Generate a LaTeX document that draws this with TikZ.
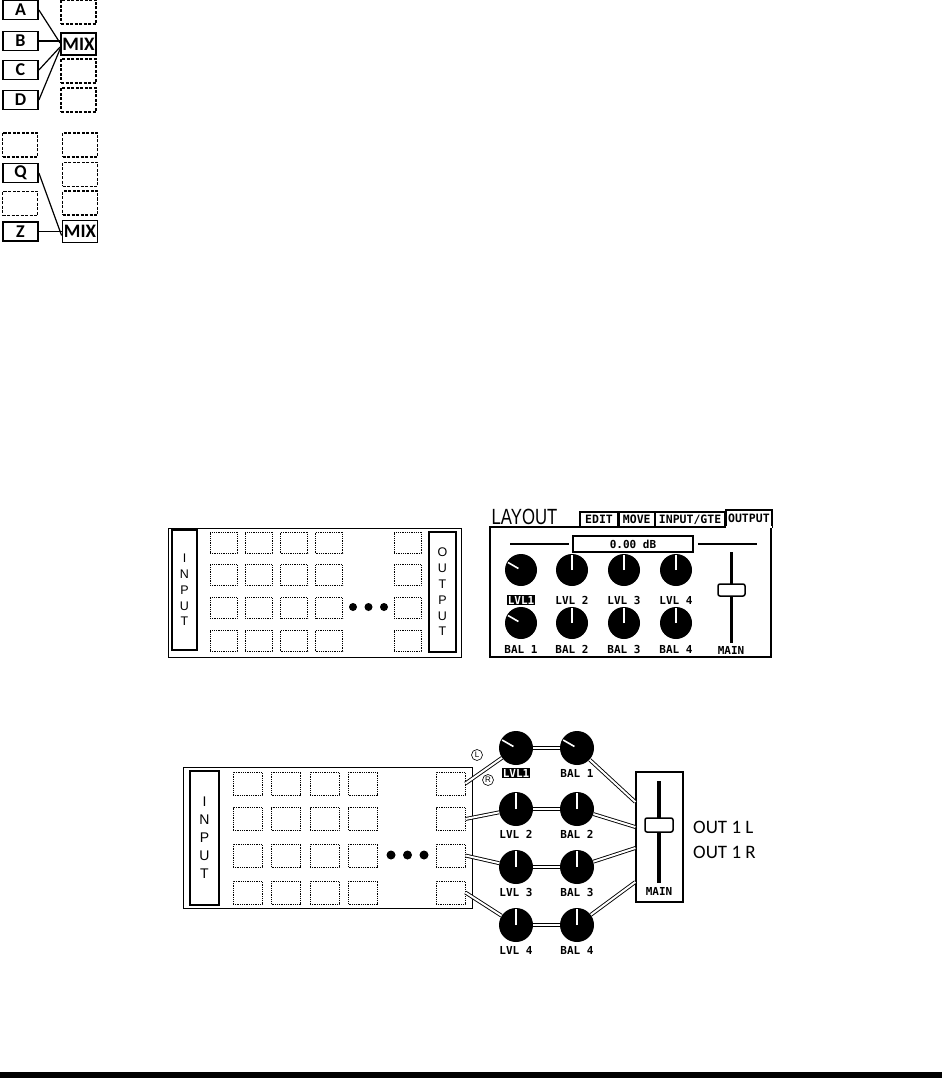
\documentclass[tikz,border=0pt]{standalone}
\usepackage{graphicx}
\usepackage{fontspec}
\setmainfont{Carlito}
\newfontfamily\arialfont{Liberation Sans}
\newfontfamily\lcdfont{DejaVu Sans Mono}
\usetikzlibrary{positioning}

\tikzset{
  srcbox/.style={draw, line width=1.8pt, minimum width=35pt, minimum height=19pt, inner sep=0pt, font=\bfseries\fontsize{18}{18}\selectfont},
  mixbox/.style={srcbox, minimum height=22pt, font=\bfseries\fontsize{19}{19}\selectfont},
  freebox/.style={draw, line width=1.6pt, dash pattern=on 3pt off 1.5pt, minimum width=35pt, minimum height=24pt, inner sep=0pt},
  cell/.style={draw, line width=0.8pt, densely dotted, inner sep=0pt},
  rack/.style={draw, line width=0.8pt, inner sep=0pt},
  ioframe/.style={draw, line width=2pt, inner sep=0pt, align=center},
  knob/.style={circle, fill=black, inner sep=0pt},
  lcdtext/.style={font=\lcdfont\bfseries\fontsize{11}{11}\selectfont, inner sep=1pt},
  tab/.style={draw, line width=1.3pt, minimum height=15pt, inner sep=1pt, font=\lcdfont\bfseries\fontsize{11.5}{11.5}\selectfont},
  chan/.style={double, double distance=2pt, line width=0.9pt},
  pointer/.style={white, line width=1.6pt},
  faderknob/.style={draw, fill=white, line width=1.5pt, rounded corners=2pt},
  chmark/.style={circle, draw, line width=0.6pt, inner sep=0pt, minimum size=11pt, font=\arialfont\fontsize{8}{8}\selectfont},
}

\begin{document}
\begin{tikzpicture}[x=1pt, y=-1pt]
\useasboundingbox (0,0) rectangle (942,1078);

% first mix group
\foreach \lbl/\y in {A/10, B/41, C/70, D/100}
  \node[srcbox] (\lbl) at (20.5,\y) {\lbl};
\node[freebox] (f1) at (78.5,12) {};
\node[mixbox] (mix1) at (78.5,44) {MIX};
\node[freebox] (f3) at (78.5,71) {};
\node[freebox] (f4) at (78.5,100) {};
\draw[line width=1.2pt] (A.east) -- ([yshift=1pt]mix1.west);
\draw[line width=1.8pt] (B.east) -- (B.east -| mix1.west);
\draw[line width=1.2pt] (C.east) -- ([yshift=-3pt]mix1.west);
\draw[line width=1.2pt] (D.east) -- ([yshift=-5pt]mix1.west);

% second mix group
\node[freebox] (g1) at (20,145) {};
\node[srcbox] (Q) at (20.5,173) {Q};
\node[freebox] (g3) at (20,203.5) {};
\node[srcbox] (Z) at (20.5,231.5) {Z};
\node[freebox] (h1) at (80,145) {};
\node[freebox] (h2) at (80,174.5) {};
\node[freebox] (h3) at (80,203) {};
\node[mixbox] (mix2) at (80,231.5) {MIX};
\draw[line width=1.2pt] (Q.east) -- ([yshift=-4pt]mix2.west);
\draw[line width=1.8pt] (Z.east) -- (mix2.west);

% layout grid
\node[rack, minimum width=293pt, minimum height=129pt] (rack1) at (314.5,592.5) {};
\node[ioframe, minimum width=25pt, minimum height=120pt, font=\arialfont\fontsize{12.5}{15.7}\selectfont] (in1) at (184.5,590) {I\\N\\P\\U\\T};
\node[ioframe, minimum width=27pt, minimum height=120pt, font=\arialfont\fontsize{12.5}{15.8}\selectfont] (out1) at (442.5,592) {O\\U\\T\\P\\U\\T};
\foreach \x [count=\c] in {223.5,258.5,294,329,407.5}
  \foreach \y [count=\r] in {542.5,575,608,640.5}
    \node[cell, minimum width=27pt, minimum height=21pt] (a\r\c) at (\x,\y) {};
\foreach \x in {353,368.5,384}
  \fill (\x,607) circle (4pt);

% lcd screen
\node[font=\arialfont\fontsize{22}{22}\selectfont, inner sep=0pt] (layout) at (524.5,517) {\scalebox{0.76}[1]{LAYOUT}};
\node[draw, line width=1.3pt, minimum width=281pt, minimum height=130pt, inner sep=0pt] (panel) at (630.5,592) {};
\node[tab, minimum width=38pt] (edit) at (599,519.5) {EDIT};
\node[tab, minimum width=35pt, right=0pt of edit] (move) {MOVE};
\node[tab, minimum width=69pt, right=0pt of move] (inpgte) {INPUT/GTE};
\node[tab, minimum width=46pt, minimum height=17pt, fill=white, anchor=south west] (outtab) at (inpgte.south east) {OUTPUT};
\draw[white, line width=1.8pt] ([xshift=1pt,yshift=0.5pt]outtab.south west) -- ([xshift=-1pt,yshift=0.5pt]outtab.south east);
\node[draw, line width=1.5pt, minimum width=120pt, minimum height=16pt, lcdtext] (db) at (633,544) {0.00 dB};
\draw[line width=1.3pt] (510,544) -- ([xshift=-3pt]db.west);
\draw[line width=1.3pt] ([xshift=4pt]db.east) -- (757,544);
\foreach \x [count=\i] in {521,572,624,676} {
  \node[knob, minimum size=32pt] (lk\i) at (\x,570) {};
  \node[knob, minimum size=32pt] (bk\i) at (\x,623) {};
  \node[lcdtext, below=5pt of bk\i] (bl\i) {BAL \i};
}
\node[lcdtext, fill=black, text=white, below=9pt of lk1] (ll1) {LVL1};
\foreach \i in {2,3,4} {
  \node[lcdtext, below=9pt of lk\i] (ll\i) {LVL \i};
  \draw[pointer] (lk\i.center) -- ++(90:15pt);
  \draw[pointer] (bk\i.center) -- ++(90:15pt);
}
\draw[pointer] (lk1.center) ++(150:3pt) -- ++(150:12pt);
\draw[pointer] (bk1.center) ++(150:3pt) -- ++(150:12pt);
\draw[line width=3pt] (731,552) -- (731,643);
\node[faderknob, minimum width=27pt, minimum height=12pt] (fader1) at (731.5,590) {};
\node[lcdtext] (main1) at (731,650) {MAIN};

% signal flow
\node[rack, minimum width=289pt, minimum height=141pt] (rack2) at (327.5,837.5) {};
\node[ioframe, line width=2.5pt, minimum width=29pt, minimum height=134pt, font=\arialfont\fontsize{14}{18}\selectfont] (in2) at (204.5,838) {I\\N\\P\\U\\T};
\foreach \x [count=\c] in {247.5,286,324.5,363,450.5}
  \foreach \y [count=\r] in {783.5,819,855.5,892.5}
    \node[cell, minimum width=29pt, minimum height=23pt] (b\r\c) at (\x,\y) {};
\foreach \x in {391,407.5,424}
  \fill (\x,855) circle (4.5pt);
\node[draw, line width=1.3pt, minimum width=47pt, minimum height=130pt, inner sep=0pt] (mainbox) at (659.5,837) {};
\foreach \y [count=\i] in {748,809,867,925} {
  \node[knob, minimum size=34pt] (lvl\i) at (516,\y) {};
  \node[knob, minimum size=34pt] (bal\i) at (577,\y) {};
  \node[lcdtext, below=3pt of bal\i] (bt\i) {BAL \i};
  \draw[chan] (b\i5.east) -- (lvl\i);
  \draw[chan] (lvl\i) -- (bal\i);
}
\node[lcdtext, fill=black, text=white, below=3pt of lvl1] (lt1) {LVL1};
\foreach \i in {2,3,4} {
  \node[lcdtext, below=3pt of lvl\i] (lt\i) {LVL \i};
  \draw[pointer] (lvl\i.center) -- ++(90:16pt);
  \draw[pointer] (bal\i.center) -- ++(90:16pt);
}
\draw[pointer] (lvl1.center) ++(150:3pt) -- ++(150:13pt);
\draw[pointer] (bal1.center) ++(150:3pt) -- ++(150:13pt);
\foreach \i/\s in {1/35, 2/10, 3/-11, 4/-45}
  \draw[chan] (bal\i) -- ([yshift=\s pt]mainbox.west);
\draw[line width=3.5pt] (659,781) -- (659,883);
\node[faderknob, minimum width=28pt, minimum height=14pt] (fader2) at (659,825) {};
\node[lcdtext] (main2) at (659,891) {MAIN};
\node[chmark] (lmark) at (477,755) {L};
\node[chmark] (rmark) at (488,780) {R};
\node[anchor=west, inner sep=0pt, font=\fontsize{19}{19}\selectfont] (outl) at (693,827) {OUT 1 L};
\node[anchor=west, inner sep=0pt, font=\fontsize{19}{19}\selectfont] (outr) at (693,852) {OUT 1 R};

% page rule
\fill (0,1072) rectangle (942,1078);
\end{tikzpicture}
\end{document}
